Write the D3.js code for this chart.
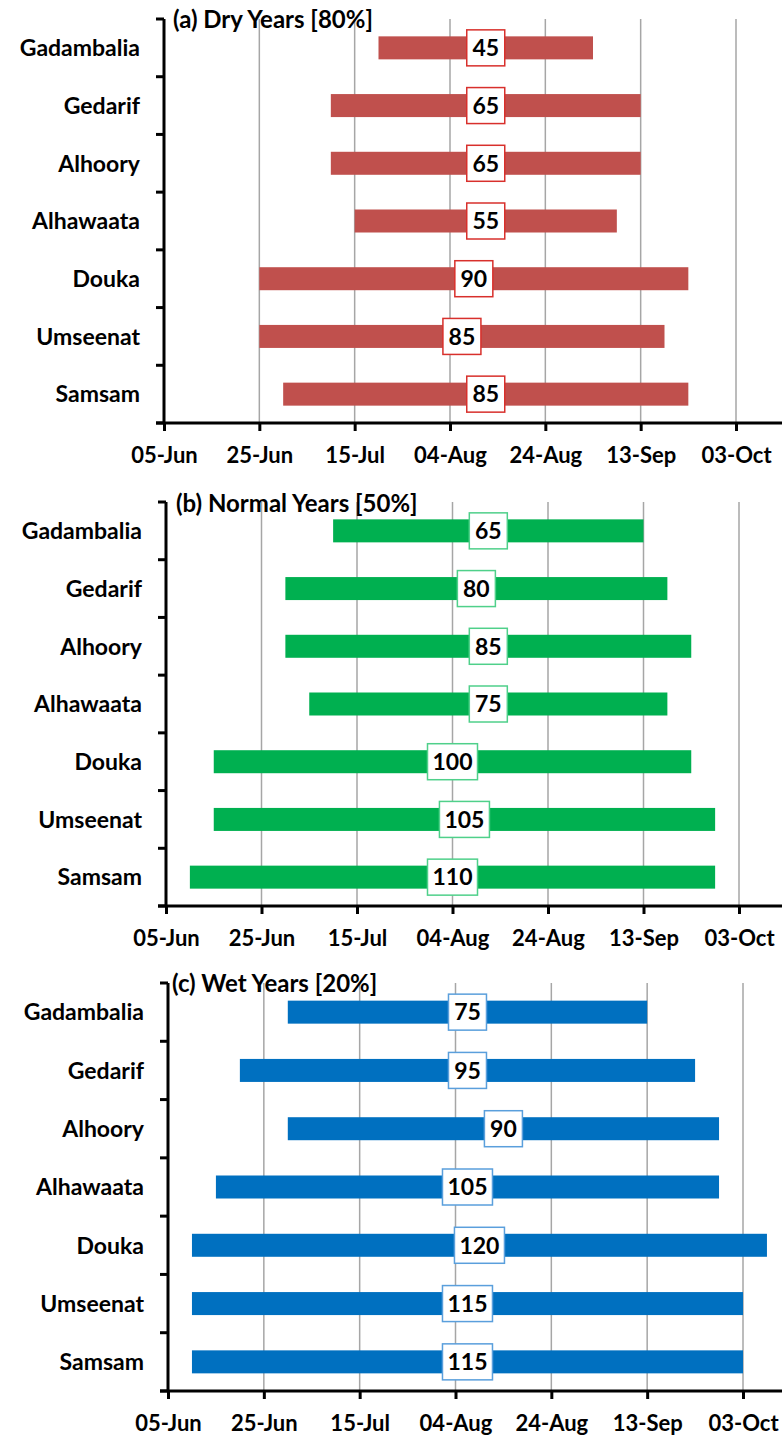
<!DOCTYPE html>
<html>
<head>
<meta charset="utf-8">
<script src="https://cdn.jsdelivr.net/npm/d3@7"></script>
<style>
  body { margin: 0; background: #fff; }
  text { font-family: Lato, "Open Sans", sans-serif; font-weight: bold; fill: #000; }
</style>
</head>
<body>
<div id="chart"></div>
<script>
// stations, top to bottom
var stations = ["Gadambalia", "Gedarif", "Alhoory", "Alhawaata", "Douka", "Umseenat", "Samsam"];
var tickLabels = ["05-Jun", "25-Jun", "15-Jul", "04-Aug", "24-Aug", "13-Sep", "03-Oct"];

// season start / end dates per station
var dryStart = ["20-Jul", "10-Jul", "10-Jul", "15-Jul", "25-Jun", "25-Jun", "30-Jun"];
var dryEnd   = ["03-Sep", "13-Sep", "13-Sep", "08-Sep", "23-Sep", "18-Sep", "23-Sep"];
var dryDays  = [45, 65, 65, 55, 90, 85, 85];

var normalStart = ["10-Jul", "30-Jun", "30-Jun", "05-Jul", "15-Jun", "15-Jun", "10-Jun"];
var normalEnd   = ["13-Sep", "18-Sep", "23-Sep", "18-Sep", "23-Sep", "28-Sep", "28-Sep"];
var normalDays  = [65, 80, 85, 75, 100, 105, 110];

var wetStart = ["30-Jun", "20-Jun", "30-Jun", "15-Jun", "10-Jun", "10-Jun", "10-Jun"];
var wetEnd   = ["13-Sep", "23-Sep", "28-Sep", "28-Sep", "08-Oct", "03-Oct", "03-Oct"];
var wetDays  = [75, 95, 90, 105, 120, 115, 115];

var W = 782, H = 1437;
var parse = d3.utcParse("%d-%b");

var svg = d3.select("#chart").append("svg")
    .attr("width", W)
    .attr("height", H);

var panels = [
  {title: "(a) Dry Years [80%]", start: dryStart, end: dryEnd, days: dryDays,
   fill: "#C0504D", edge: "#d8302c", left: 164, right: 736, top: 19, bottom: 423, titleX: 173, titleY: 28},
  {title: "(b) Normal Years [50%]", start: normalStart, end: normalEnd, days: normalDays,
   fill: "#00B050", edge: "#4fd08a", left: 166, right: 739, top: 502, bottom: 906, titleX: 176, titleY: 512},
  {title: "(c) Wet Years [20%]", start: wetStart, end: wetEnd, days: wetDays,
   fill: "#0070C0", edge: "#5a9fdc", left: 168, right: 743, top: 983, bottom: 1391, titleX: 172, titleY: 992}
];

panels.forEach(function(p) {
  var g = svg.append("g");

  var x = d3.scaleUtc()
    .domain([parse(tickLabels[0]), parse(tickLabels[tickLabels.length - 1])])
    .range([p.left, p.right]);

  var y = d3.scaleBand()
    .domain(stations)
    .range([p.top, p.bottom]);

  var rows = stations.map(function(s, i) {
    return {name: s, s: parse(p.start[i]), e: parse(p.end[i]), d: p.days[i]};
  });

  // vertical gridlines
  g.selectAll("line.grid")
    .data(tickLabels.slice(1))
    .enter().append("line")
      .attr("x1", function(d) { return x(parse(d)); })
      .attr("x2", function(d) { return x(parse(d)); })
      .attr("y1", p.top)
      .attr("y2", p.bottom)
      .attr("stroke", "#a6a6a6")
      .attr("stroke-width", 1.5);

  // title
  g.append("text")
    .attr("x", p.titleX)
    .attr("y", p.titleY)
    .style("font-size", "24px")
    .text(p.title);

  // bars
  var bh = 23;
  g.selectAll("rect.bar")
    .data(rows)
    .enter().append("rect")
      .attr("x", function(d) { return x(d.s); })
      .attr("width", function(d) { return x(d.e) - x(d.s); })
      .attr("y", function(d) { return y(d.name) + y.bandwidth() / 2 - bh / 2; })
      .attr("height", bh)
      .attr("fill", p.fill);

  // duration labels in boxes at bar middle
  var lab = g.selectAll("g.lab")
    .data(rows)
    .enter().append("g")
      .attr("transform", function(d) {
        var cx = (x(d.s) + x(d.e)) / 2;
        return "translate(" + cx + "," + (y(d.name) + y.bandwidth() / 2) + ")";
      });
  lab.append("rect")
    .attr("x", function(d) { return String(d.d).length > 2 ? -25 : -19; })
    .attr("width", function(d) { return String(d.d).length > 2 ? 50 : 38; })
    .attr("y", -18)
    .attr("height", 36)
    .attr("fill", "#fff")
    .attr("stroke", p.edge)
    .attr("stroke-width", 1.5);
  lab.append("text")
    .attr("text-anchor", "middle")
    .attr("dy", "0.36em")
    .style("font-size", "23px")
    .text(function(d) { return d.d; });

  // y axis: ticks at category boundaries
  var yTicks = stations.map(function(s) { return y(s); }).concat([p.bottom]);
  g.append("line")
    .attr("x1", p.left).attr("x2", p.left)
    .attr("y1", p.top).attr("y2", p.bottom)
    .attr("stroke", "#000").attr("stroke-width", 3);
  g.selectAll("line.yt")
    .data(yTicks)
    .enter().append("line")
      .attr("x1", p.left - 8).attr("x2", p.left)
      .attr("y1", function(d) { return d; })
      .attr("y2", function(d) { return d; })
      .attr("stroke", "#000").attr("stroke-width", 3);
  g.selectAll("text.cat")
    .data(stations)
    .enter().append("text")
      .attr("x", p.left - 24)
      .attr("y", function(d) { return y(d) + y.bandwidth() / 2; })
      .attr("dy", "0.36em")
      .attr("text-anchor", "end")
      .style("font-size", "23px")
      .text(function(d) { return d; });

  // x axis
  var xAxis = d3.axisBottom(x)
    .tickValues(tickLabels.map(parse))
    .tickFormat(d3.utcFormat("%d-%b"))
    .tickSize(8)
    .tickPadding(16);
  var ax = g.append("g")
    .attr("transform", "translate(0," + p.bottom + ")")
    .call(xAxis);
  ax.select(".domain").remove();
  ax.selectAll(".tick line").attr("stroke", "#000").attr("stroke-width", 3);
  ax.selectAll(".tick text")
    .style("font-size", "22px")
    .style("font-family", "Lato, sans-serif")
    .style("font-weight", "bold")
    .attr("fill", "#000");
  g.append("line")
    .attr("x1", p.left - 8).attr("x2", W)
    .attr("y1", p.bottom).attr("y2", p.bottom)
    .attr("stroke", "#000").attr("stroke-width", 3);
});
</script>
</body>
</html>
